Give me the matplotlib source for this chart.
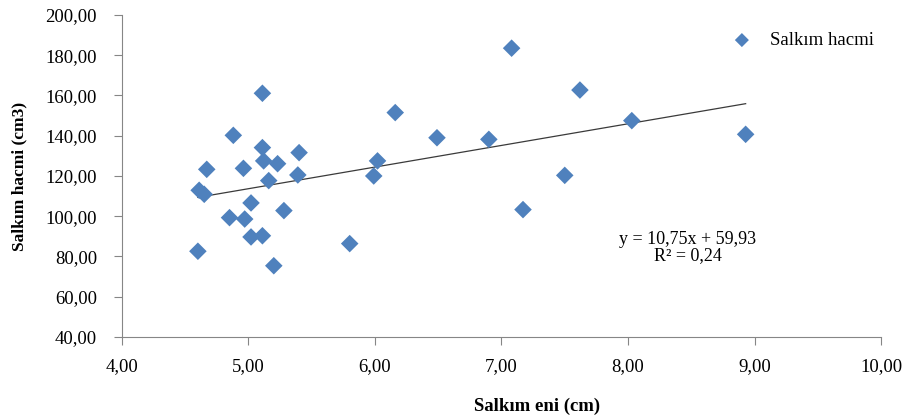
import numpy as np
import matplotlib.pyplot as plt

plt.rcParams['font.family'] = ['Liberation Serif', 'DejaVu Serif']

# Salkım eni (cm) ve salkım hacmi (cm3)
salkim_eni = [5.11, 4.88, 5.11, 5.40, 5.12, 5.23, 4.67, 4.96, 5.39, 5.16,
              4.61, 4.65, 5.02, 5.28, 4.85, 4.97, 5.02, 5.11, 4.60, 5.20,
              7.08, 7.62, 6.16, 6.49, 6.90, 6.02, 5.99, 7.50, 7.17, 5.80,
              8.03, 8.93]
salkim_hacmi = [161.1, 140.2, 134.1, 131.6, 127.5, 126.1, 123.3, 123.8, 120.5, 117.7,
                112.9, 110.9, 106.6, 102.8, 99.3, 98.6, 89.7, 90.3, 82.6, 75.4,
                183.5, 162.7, 151.5, 139.0, 138.2, 127.5, 120.0, 120.3, 103.3, 86.4,
                147.5, 140.7]

# trend çizgisi katsayıları (grafikteki denklem)
egim = 10.75
kesisim = 59.93
r2 = 0.24

x_ticks = [4, 5, 6, 7, 8, 9, 10]
y_ticks = [40, 60, 80, 100, 120, 140, 160, 180, 200]

fig = plt.figure(figsize=(9.09, 4.15), dpi=100)
ax = fig.add_axes([0.1342, 0.188, 0.9692 - 0.1342, 0.9639 - 0.188])

ax.scatter(salkim_eni, salkim_hacmi, marker='D', s=80, color='#4F81BD',
           edgecolors='none', label='Salkım hacmi', zorder=3)

xs = np.array([min(salkim_eni), max(salkim_eni)])
ax.plot(xs, egim * xs + kesisim, color='#3a3a3a', linewidth=0.9, zorder=2)

ax.set_xlim(4, 10)
ax.set_ylim(40, 200)
ax.set_xticks(x_ticks)
ax.set_yticks(y_ticks)
ax.set_xticklabels([f'{v:.2f}'.replace('.', ',') for v in x_ticks])
ax.set_yticklabels([f'{v:.2f}'.replace('.', ',') for v in y_ticks])
ax.tick_params(labelsize=13.5, direction='out', length=6, color='#868686')
ax.tick_params(axis='y', pad=12)
ax.tick_params(axis='x', pad=9)

for s in ['top', 'right']:
    ax.spines[s].set_visible(False)
for s in ['left', 'bottom']:
    ax.spines[s].set_color('#868686')

ax.set_xlabel('Salkım eni (cm)', fontsize=13.5, fontweight='bold')
ax.set_ylabel('Salkım hacmi (cm3)', fontsize=12.5, fontweight='bold')
ax.xaxis.set_label_coords(0.547, -0.19)
ax.yaxis.set_label_coords(-0.124, 0.5)

denklem = (f'y = {egim:.2f}x + {kesisim:.2f}\nR² = {r2:.2f}').replace('.', ',')
ax.text(8.47, 84.5, denklem, ha='center', va='center', multialignment='center',
        fontsize=13, linespacing=0.95)

ax.legend(loc='upper right', bbox_to_anchor=(1.013, 1.0), frameon=False,
          fontsize=13.5, handletextpad=0.5, markerscale=0.8)

fig.savefig('out.png', dpi=100)
